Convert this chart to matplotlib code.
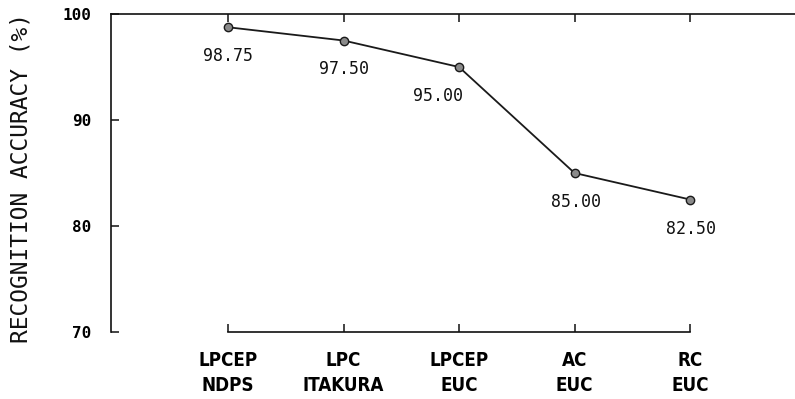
import numpy as np
import matplotlib.pyplot as plt

# recognition accuracy per feature / distance measure
methods = ['LPCEP\nNDPS', 'LPC\nITAKURA', 'LPCEP\nEUC', 'AC\nEUC', 'RC\nEUC']
accuracy = [98.75, 97.50, 95.00, 85.00, 82.50]
value_labels = ['98.75', '97.50', '95.00', '85.00', '82.50']
label_dx = [0, 0, -21, 2, 1]   # pixel offsets of the value labels
yticks = [70, 80, 90, 100]

mono = ['DejaVu Sans Mono']

fig = plt.figure(figsize=(7.95, 3.99), dpi=100)
W, H = 795, 399
ax = fig.add_axes([111 / W, 1 - 332 / H, (W - 111) / W, (332 - 14) / H])

x = np.arange(len(methods))
ax.plot(x, accuracy, color='#1a1a1a', lw=1.3, marker='o', markersize=6,
        markerfacecolor='#8a8a8a', markeredgecolor='#1a1a1a', markeredgewidth=1.0)

for xi, yi, s, dx in zip(x, accuracy, value_labels, label_dx):
    ax.annotate(s, (xi, yi), xytext=(dx, -29), textcoords='offset pixels',
                ha='center', va='center', fontsize=12, family=mono, color='#111')

ax.set_xlim(-(228 - 111) / 115.5, (W - 228) / 115.5)
ax.set_ylim(70, 100)

ax.spines['right'].set_visible(False)
ax.spines['bottom'].set_bounds(0, 4)
for s in ax.spines.values():
    s.set_color('#111')
    s.set_linewidth(1.2)

ax.set_yticks(yticks)
ax.set_yticklabels([str(t) for t in yticks], family=mono, fontsize=11.5,
                   fontweight='bold')
ax.set_xticks(x)
ax.set_xticklabels(methods, family='DejaVu Sans', fontstretch='condensed',
                   fontsize=13.5, fontweight='bold', linespacing=1.4)
ax.tick_params(axis='y', direction='in', length=6, width=1.1, pad=14, color='#111')
ax.tick_params(axis='x', direction='in', length=6, width=1.1, pad=14, color='#111',
               top=True)

fig.text(21 / W, 1 - 178 / H, 'RECOGNITION ACCURACY (%)', rotation=90,
         ha='center', va='center', family=mono, fontsize=16.5, color='#111')

fig.savefig('out.png', dpi=100)
